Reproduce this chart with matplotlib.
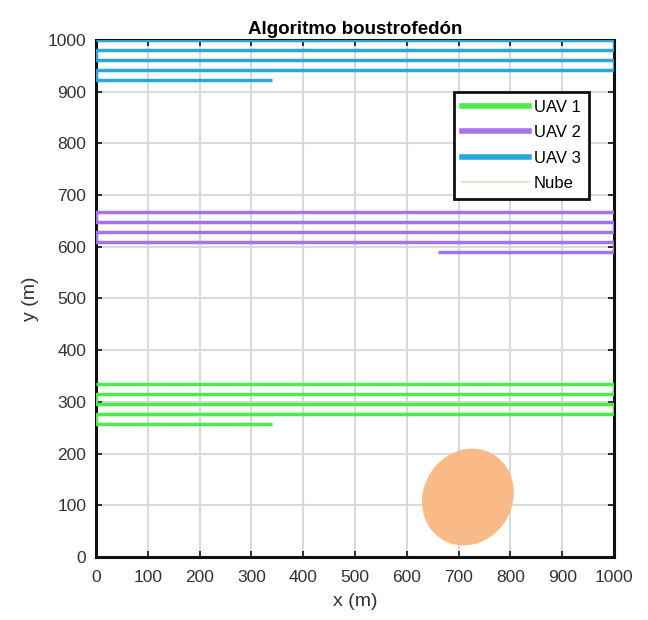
import matplotlib.pyplot as plt
import numpy as np
from matplotlib.patches import Ellipse
from matplotlib.lines import Line2D

plt.rcParams['font.family'] = ['Liberation Sans', 'DejaVu Sans']

# Pasadas de cada UAV (altura de cada barrido, x inicial y final)
uav1_y = [335, 316, 296, 277, 257]
uav1_x0 = [0, 1000, 0, 1000, 0]
uav1_x1 = [1000, 0, 1000, 0, 340]

uav2_y = [667, 648, 629, 609, 590]
uav2_x0 = [1000, 0, 1000, 0, 1000]
uav2_x1 = [0, 1000, 0, 1000, 660]

uav3_y = [1000, 981, 961, 942, 922]
uav3_x0 = [0, 1000, 0, 1000, 0]
uav3_x1 = [1000, 0, 1000, 0, 340]

# Nube (centro, ejes, ángulo)
nube_c = (718, 116)
nube_ejes = (192, 172)
nube_ang = 60

cores = ['#4CEB4C', '#A273EA', '#2AA6DA']
nube_cor = '#F9BA87'


def trayectoria(ys, x0s, x1s):
    xs, yy = [], []
    for y, a, b in zip(ys, x0s, x1s):
        xs += [a, b]
        yy += [y, y]
    return xs, yy


fig = plt.figure(figsize=(6.48, 6.2), dpi=100)
ax = fig.add_axes([0.148, 0.1016, 0.7995, 0.834])

ax.add_patch(Ellipse(nube_c, nube_ejes[0], nube_ejes[1], angle=nube_ang,
                     facecolor=nube_cor, edgecolor='none', zorder=1))

for ys, x0s, x1s, c in [(uav1_y, uav1_x0, uav1_x1, cores[0]),
                        (uav2_y, uav2_x0, uav2_x1, cores[1]),
                        (uav3_y, uav3_x0, uav3_x1, cores[2])]:
    xs, yy = trayectoria(ys, x0s, x1s)
    ax.plot(xs, yy, color=c, lw=2.5, zorder=3, solid_capstyle='butt')

ax.set_xlim(0, 1000)
ax.set_ylim(0, 1000)
ax.set_xticks(np.arange(0, 1001, 100))
ax.set_yticks(np.arange(0, 1001, 100))
ax.grid(True, color='#DADADA', lw=1.5, zorder=0)
ax.set_axisbelow(True)
ax.tick_params(direction='in', length=4, width=1.2, labelsize=12.5,
               colors='#111111', labelcolor='#333333', top=True, right=True)
ax.tick_params(axis='x', pad=9)
ax.tick_params(axis='y', pad=7)
for s in ax.spines.values():
    s.set_linewidth(2.2)
    s.set_color('#111111')

ax.set_title('Algoritmo boustrofedón', fontsize=13.5, fontweight='bold', pad=4)
ax.set_xlabel('x (m)', fontsize=14, color='#333333', labelpad=6)
ax.set_ylabel('y (m)', fontsize=14, color='#333333', labelpad=6)

handles = [Line2D([], [], color=cores[0], lw=4),
           Line2D([], [], color=cores[1], lw=4),
           Line2D([], [], color=cores[2], lw=4),
           Line2D([], [], color='#E6DCC8', lw=1.2)]
leg = ax.legend(handles, ['UAV 1', 'UAV 2', 'UAV 3', 'Nube'],
                loc='upper right', bbox_to_anchor=(0.952, 0.9),
                fontsize=12, frameon=True, fancybox=False,
                handlelength=4.0, handletextpad=0.3, borderpad=0.5,
                labelspacing=0.62, borderaxespad=0)
leg.get_frame().set_edgecolor('#111111')
leg.get_frame().set_linewidth(2)
leg.get_frame().set_alpha(1)

fig.savefig('out.png', dpi=100)
